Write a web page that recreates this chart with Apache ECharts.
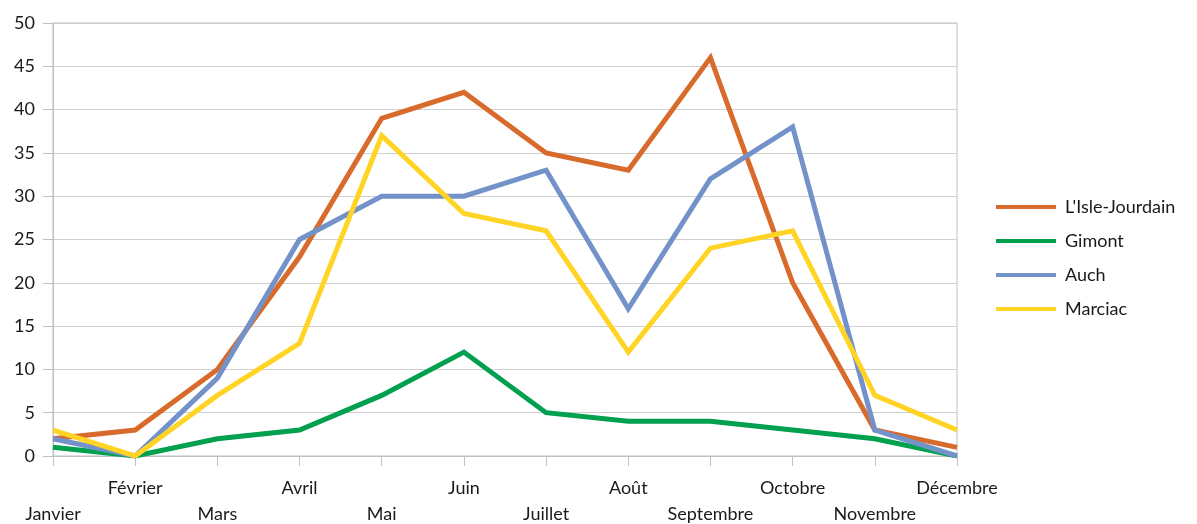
<!DOCTYPE html>
<html>
<head>
<meta charset="utf-8">
<script src="https://cdn.jsdelivr.net/npm/echarts@6/dist/echarts.min.js"></script>
<style>
  html, body { margin: 0; padding: 0; background: #fff; }
  #chart { width: 1197px; height: 524px; }
</style>
</head>
<body>
<div id="chart"></div>
<script>
const months = ['Janvier', 'Février', 'Mars', 'Avril', 'Mai', 'Juin', 'Juillet', 'Août', 'Septembre', 'Octobre', 'Novembre', 'Décembre']
const isleJourdain = [2, 3, 10, 23, 39, 42, 35, 33, 46, 20, 3, 1]
const gimont = [1, 0, 2, 3, 7, 12, 5, 4, 4, 3, 2, 0]
const auch = [2, 0, 9, 25, 30, 30, 33, 17, 32, 38, 3, 0]
const marciac = [3, 0, 7, 13, 37, 28, 26, 12, 24, 26, 7, 3]

const font = 'Lato'
const gray = '#bfbfbf'
const textColor = '#1a1a1a'

function line (name, data, color) {
  return {
    name: name,
    type: 'line',
    data: data,
    symbol: 'none',
    lineStyle: { width: 5, color: color, join: 'miter' },
    itemStyle: { color: color }
  }
}

const chart = echarts.init(document.getElementById('chart'))
chart.setOption({
  animation: false,
  textStyle: { fontFamily: font },
  grid: {
    left: 53,
    right: 240,
    top: 23,
    bottom: 68,
    outerBoundsMode: 'none',
    containLabel: false,
    show: true,
    borderColor: gray,
    borderWidth: 1
  },
  legend: {
    orient: 'vertical',
    left: 991,
    top: 192,
    icon: 'rect',
    itemWidth: 60,
    itemHeight: 4,
    itemGap: 14,
    textStyle: { fontFamily: font, fontSize: 18, color: textColor, lineHeight: 20, padding: [0, 0, 0, 4] },
    data: ["L'Isle-Jourdain", 'Gimont', 'Auch', 'Marciac']
  },
  xAxis: {
    type: 'category',
    data: months,
    boundaryGap: false,
    axisLine: { lineStyle: { color: gray } },
    axisTick: { show: true, length: 10, interval: 0, lineStyle: { color: gray } },
    axisLabel: {
      interval: 0,
      margin: 19,
      fontFamily: font,
      fontSize: 18,
      color: textColor,
      lineHeight: 26,
      formatter: (value, index) => index % 2 === 0 ? '\n' + value : value
    }
  },
  yAxis: {
    type: 'value',
    min: 0,
    max: 50,
    interval: 5,
    axisLine: { show: true, lineStyle: { color: gray } },
    axisTick: { show: true, length: 10, lineStyle: { color: gray } },
    splitLine: { lineStyle: { color: '#d0d0d0' } },
    axisLabel: { margin: 18, fontFamily: font, fontSize: 18, color: textColor }
  },
  series: [
    line("L'Isle-Jourdain", isleJourdain, '#d86a2b'),
    line('Gimont', gimont, '#00a04f'),
    line('Auch', auch, '#7392c9'),
    line('Marciac', marciac, '#ffd424')
  ]
})
</script>
</body>
</html>
